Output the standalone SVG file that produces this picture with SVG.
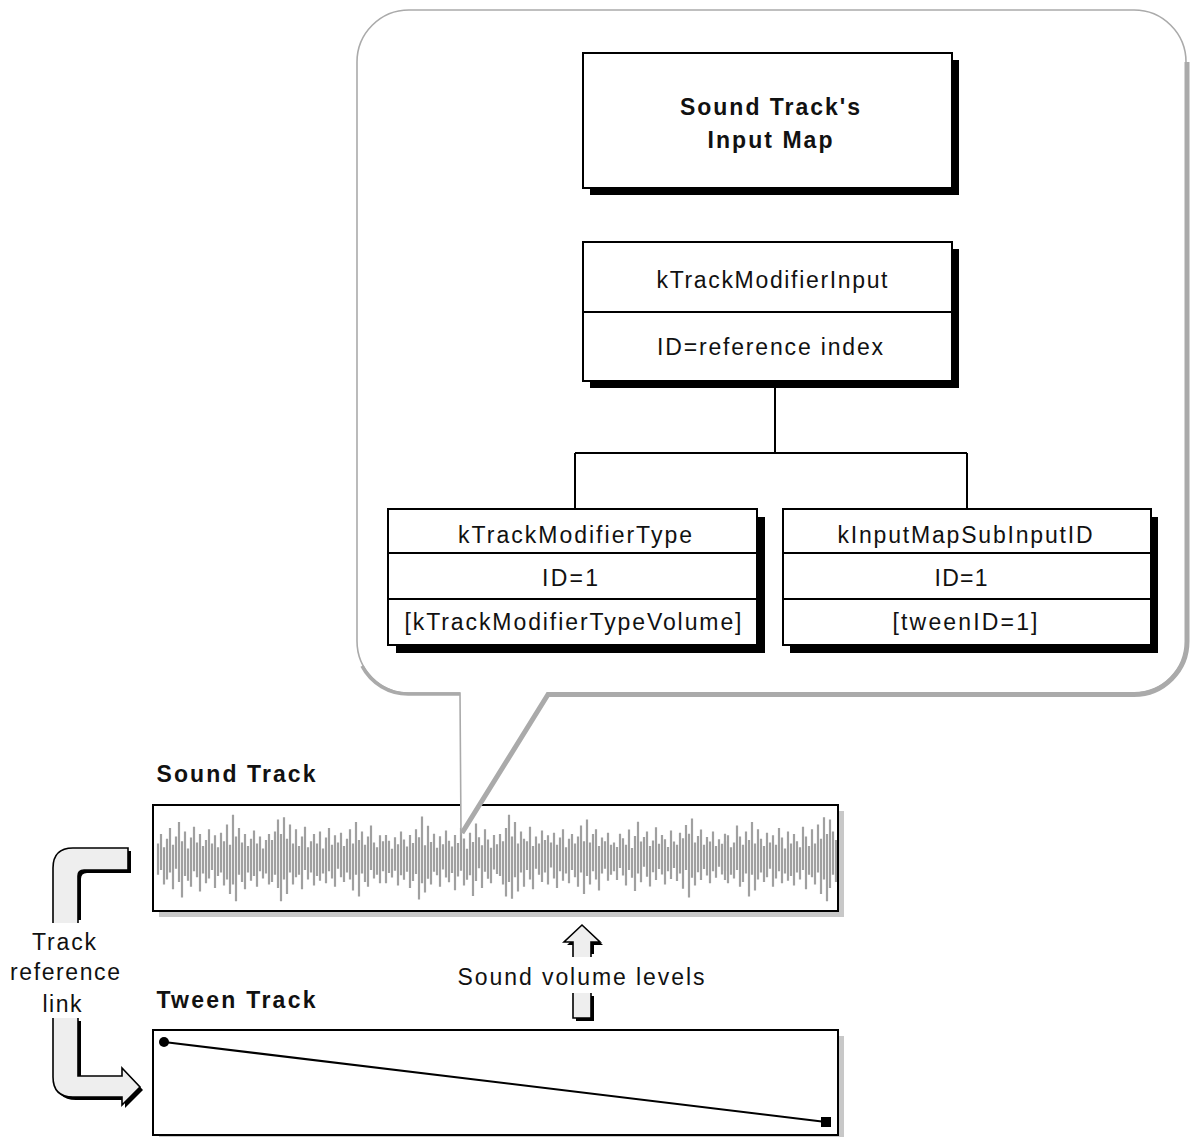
<svg xmlns="http://www.w3.org/2000/svg" width="1191" height="1137" viewBox="0 0 1191 1137">
<style>
.t{font-family:"Liberation Sans",Arial,sans-serif;font-size:23px;fill:#111;text-anchor:middle}
.b{font-weight:bold}
.box{fill:#fff;stroke:#000;stroke-width:2}
.sh{fill:#000}
.gsh{fill:#c8c8c8}
.ln{stroke:#000;stroke-width:2;fill:none}
.wave{stroke:#a0a0a0;stroke-width:2.2;fill:none}
.arr{fill:#eeeeee;stroke:#000;stroke-width:1.6;stroke-linejoin:miter}
</style>
<defs>
<path id="wA" class="wave" d="M0-12V14M3-20V10M6-9V22M9-16V18M12-25V12M15-11V26M18-18V9M21-30V20M24-14V33M27-22V15M30-8V19M33-17V24M36-26V11M39-13V16M42-20V28M45-10V13M48-15V21M51-24V17M54-12V10M57-19V25M60-9V15M63-21V12M66-14V23M69-28V18M72-11V30M75-36V22M78-18V36M81-25V14M84-13V20M87-20V26M90-10V12M93-16V19M96-23V15M99-12V24M102-18V11M105-8V17M108-15V13M111-20V22"/>
<path id="wB" class="wave" d="M0-15V20M3-22V14M6-32V25M9-20V36M12-34V18M15-16V30M18-28V12M21-12V22M24-24V16M27-10V14M30-18V26M33-26V10M36-9V18M39-14V12M42-20V23M45-12V15M48-22V19M51-8V13M54-17V21M57-25V11M60-11V17M63-19V24M66-13V9M69-21V16M72-10V20M75-16V12M78-24V18M81-12V27M84-30V14M87-15V32M90-22V13M93-11V20M96-18V24M99-27V10M102-13V17M105-9V14M108-19V21M111-14V11"/>
</defs>

<!-- Sound track -->
<g id="sound-track">
<text class="t b" x="236" y="782" font-size="22" textLength="159" lengthAdjust="spacing">Sound Track</text>
<rect class="gsh" x="159" y="811" width="685" height="106"/>
<rect x="153" y="805" width="685" height="106" fill="#fff"/>
<g>
<use href="#wA" transform="translate(158,858) scale(1,1.2)"/>
<use href="#wB" transform="translate(272,858) scale(1,1.2)"/>
<use href="#wA" transform="translate(497,858) scale(-1,1.15)"/>
<use href="#wB" transform="translate(500,858) scale(1,-1.2)"/>
<use href="#wA" transform="translate(614,858) scale(1,-1.1)"/>
<use href="#wB" transform="translate(836,858) scale(-1,1.2)"/>
</g>
<rect x="153" y="805" width="685" height="106" fill="none" stroke="#000" stroke-width="2"/>
</g>

<!-- Tween track -->
<g id="tween-track">
<text class="t b" x="236" y="1008" font-size="22" textLength="159" lengthAdjust="spacing">Tween Track</text>
<rect class="gsh" x="159" y="1036" width="685" height="105"/>
<rect class="box" x="153" y="1030" width="685" height="105"/>
<line x1="164" y1="1042" x2="826" y2="1122" stroke="#000" stroke-width="2"/>
<circle cx="164" cy="1042" r="5" fill="#000"/>
<rect x="821" y="1117" width="10" height="10" fill="#000"/>
</g>

<!-- Speech bubble -->
<g id="bubble">
<path d="M357,62 A52,52 0 0 1 409,10 H1134 A52,52 0 0 1 1186,62 V641 A52,52 0 0 1 1134,693 H548 L461,833 L460,693 H409 A52,52 0 0 1 357,641 Z" fill="#fff" stroke="#aaa" stroke-width="1.6"/>
<path d="M1187,62 V641 A53,53 0 0 1 1134,694.5 H548 L462,833" fill="none" stroke="#aaa" stroke-width="5"/>
<path d="M362,666 A52,52 0 0 0 409,694 H460" fill="none" stroke="#aaa" stroke-width="3.5"/>
</g>

<!-- Input map -->
<g id="input-map">
<rect class="sh" x="590" y="60" width="369" height="135"/>
<rect class="box" x="583" y="53" width="369" height="135"/>
<text class="t b" x="770" y="115" textLength="180" lengthAdjust="spacing">Sound Track's</text>
<text class="t b" x="770" y="148" textLength="125" lengthAdjust="spacing">Input Map</text>
</g>

<g id="track-modifier-input">
<rect class="sh" x="590" y="249" width="369" height="139"/>
<rect class="box" x="583" y="242" width="369" height="139"/>
<line x1="583" y1="312" x2="952" y2="312" stroke="#000" stroke-width="2"/>
<text class="t" x="772" y="288" textLength="231" lengthAdjust="spacing">kTrackModifierInput</text>
<text class="t" x="770" y="355" textLength="226" lengthAdjust="spacing">ID=reference index</text>
</g>

<g id="connectors">
<path class="ln" d="M775,381 V453 M575,453 H967 M575,453 V509 M967,453 V509"/>
</g>

<g id="track-modifier-type">
<rect class="sh" x="396" y="517" width="369" height="136"/>
<rect class="box" x="388" y="509" width="369" height="136"/>
<path class="ln" d="M388,553 H757 M388,599 H757"/>
<text class="t" x="575" y="543" textLength="234" lengthAdjust="spacing">kTrackModifierType</text>
<text class="t" x="570" y="586" textLength="56" lengthAdjust="spacing">ID=1</text>
<text class="t" x="573" y="630" textLength="337" lengthAdjust="spacing">[kTrackModifierTypeVolume]</text>
</g>

<g id="input-map-sub-input-id">
<rect class="sh" x="790" y="517" width="368" height="136"/>
<rect class="box" x="783" y="509" width="368" height="136"/>
<path class="ln" d="M783,553 H1151 M783,599 H1151"/>
<text class="t" x="965" y="543" textLength="255" lengthAdjust="spacing">kInputMapSubInputID</text>
<text class="t" x="961" y="586" textLength="53" lengthAdjust="spacing">ID=1</text>
<text class="t" x="965" y="630" textLength="145" lengthAdjust="spacing">[tweenID=1]</text>
</g>

<!-- Track reference link arrow -->
<g id="track-reference-link">
<path class="sh" d="M56,920 V871 Q56,851 76,851 H131 V873 H87 Q81,873 81,879 V920 Z"/>
<path class="arr" d="M53,923 V868 Q53,848 73,848 H128 V870 H84 Q78,870 78,876 V923"/>
<path class="sh" transform="translate(3,3)" d="M53,1018 V1077 Q53,1097 73,1097 H122 V1105 L140,1087 L122,1068 V1076 H78 V1018 Z"/>
<path class="arr" d="M53,1018 V1077 Q53,1097 73,1097 H122 V1105 L140,1087 L122,1068 V1076 H78 V1018"/>
<text class="t" x="64" y="950" textLength="64" lengthAdjust="spacing">Track</text>
<text class="t" x="65" y="980" textLength="110" lengthAdjust="spacing">reference</text>
<text class="t" x="62" y="1012" textLength="39" lengthAdjust="spacing">link</text>
</g>

<!-- Sound volume levels arrow -->
<g id="sound-volume-levels">
<path class="sh" d="M576,954 V945 H567 L585,928 L603,945 H594 V954 Z"/>
<path class="arr" d="M573,957 V942 H564 L582,925 L600,942 H591 V957"/>
<path class="sh" transform="translate(3,3)" d="M573,993 V1018 H591 V993 Z"/>
<path class="arr" d="M573,993 V1018 H591 V993"/>
<text class="t" x="581" y="985" textLength="247" lengthAdjust="spacing">Sound volume levels</text>
</g>
</svg>
